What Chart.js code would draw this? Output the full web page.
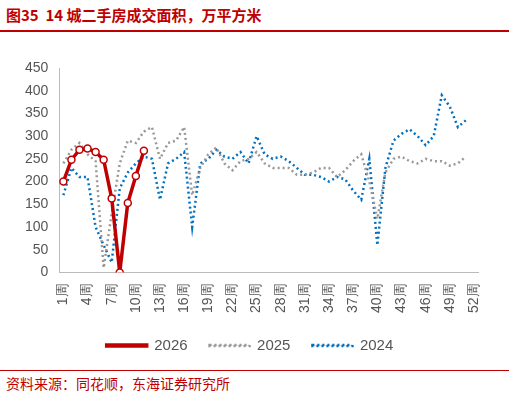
<!DOCTYPE html>
<html><head><meta charset="utf-8">
<script src="https://cdn.jsdelivr.net/npm/chart.js@4"></script>
<style>
body{margin:0;width:509px;height:400px;background:#fff;font-family:"Noto Sans CJK SC",sans-serif;position:relative;overflow:hidden}
#title{position:absolute;left:6px;top:4px;font-size:15px;font-weight:bold;color:#c00000}
#tline{position:absolute;left:0;top:30px;width:509px;height:2px;background:#c00000}
#wrap{position:absolute;left:0;top:38px;width:500px;height:325px}
#bline{position:absolute;left:0;top:370px;width:509px;height:1px;background:#c00000}
#src{position:absolute;left:6px;top:373px;font-size:14px;color:#c00000}
</style></head><body>
<div id="title">图35&nbsp;&nbsp;14 城二手房成交面积，万平方米</div>
<div id="tline"></div>
<div id="wrap"><canvas id="c"></canvas></div>
<div id="bline"></div>
<div id="src">资料来源：同花顺，东海证券研究所</div>
<script>
const weeks = Array.from({length: 52}, (_, i) => (i + 1) + '周');
const yTicks = [0, 50, 100, 150, 200, 250, 300, 350, 400, 450];
const s2026 = [200, 248, 270, 273, 265, 248, 163, 0, 153, 212, 268];
const s2025 = [240, 270, 285, 260, 245, 10, 130, 240, 290, 285, 310, 320, 250, 285, 290, 320, 170, 230, 260, 275, 240, 225, 245, 250, 265, 240, 230, 230, 230, 215, 215, 220, 230, 230, 210, 225, 245, 260, 200, 118, 220, 250, 255, 245, 240, 250, 245, 245, 235, 240, 255];
const s2024 = [170, 230, 210, 210, 100, 60, 22, 185, 220, 240, 255, 250, 160, 240, 250, 265, 100, 240, 250, 270, 255, 250, 265, 240, 300, 260, 250, 255, 245, 230, 215, 215, 210, 200, 210, 205, 180, 160, 250, 60, 230, 290, 305, 315, 300, 280, 300, 390, 365, 320, 335];

new Chart(document.getElementById('c'), {
  type: 'line',
  data: {
    labels: weeks,
    datasets: [
      {label: '2026', data: s2026, borderColor: '#c00000', borderWidth: 3.5, pointRadius: 3.5,
       pointBackgroundColor: '#fff', pointBorderColor: '#c00000', pointBorderWidth: 1.5, tension: 0, order: 0},
      {label: '2025', data: s2025, borderColor: '#999', borderWidth: 2.5, borderDash: [2, 3], pointRadius: 0, tension: 0, order: 1},
      {label: '2024', data: s2024, borderColor: '#0070c0', borderWidth: 2.5, borderDash: [2, 3], pointRadius: 0, tension: 0, order: 2}
    ]
  },
  options: {
    responsive: true, maintainAspectRatio: false, animation: false,
    layout: {padding: {left: 22, right: 22, top: 30}},
    plugins: {
      legend: {position: 'bottom', labels: {boxWidth: 40, boxHeight: 1, padding: 22, color: '#555', font: {size: 15}}},
      tooltip: {enabled: false}
    },
    scales: {
      x: {
        offset: true,
        grid: {display: false, drawTicks: true},
        border: {color: '#bbb'},
        ticks: {autoSkip: false, maxRotation: 90, minRotation: 90, color: '#555', font: {size: 14},
          callback: (v, i) => i % 3 === 0 ? weeks[i] : ''}
      },
      y: {
        min: 0, max: 450,
        afterBuildTicks: ax => { ax.ticks = yTicks.map(v => ({value: v})); },
        grid: {display: false},
        border: {color: '#bbb'},
        ticks: {color: '#555', font: {size: 14}}
      }
    }
  }
});
</script>
</body></html>
